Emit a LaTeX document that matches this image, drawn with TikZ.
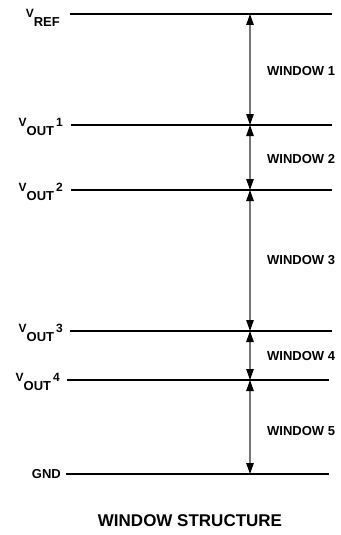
\documentclass[tikz,border=0pt]{standalone}
\usepackage{fontspec}
\setmainfont{Liberation Sans}
\usetikzlibrary{arrows.meta}
\definecolor{shaftgray}{RGB}{118,118,118}
\newcommand{\vname}[2]{{\fontsize{12}{12}\selectfont V}\raisebox{-8.5pt}{\fontsize{13}{13}\selectfont #1}{\fontsize{12}{12}\selectfont\,#2}}

\begin{document}
\begin{tikzpicture}[x=1pt,y=-1pt,font=\bfseries\fontsize{13}{15}\selectfont,
    level/.style={line width=1.5pt},
    gap/.style={draw=shaftgray,line width=1.1pt,
      {Triangle[length=11pt,width=7.5pt,color=black]}-{Triangle[length=11pt,width=7.5pt,color=black]}},
    win/.style={anchor=west,inner sep=0pt}]
    \useasboundingbox (0,0) rectangle (340,535);

    \coordinate (L0) at (70,14);  \coordinate (R0) at (332,14);
    \coordinate (L1) at (71,125); \coordinate (R1) at (332,125);
    \coordinate (L2) at (71,190); \coordinate (R2) at (332,190);
    \coordinate (L3) at (70,331); \coordinate (R3) at (332,331);
    \coordinate (L4) at (67,380); \coordinate (R4) at (329,380);
    \coordinate (L5) at (66,474); \coordinate (R5) at (329,474);

    \coordinate (A0) at (250,14);
    \coordinate (A1) at (250,125);
    \coordinate (A2) at (250,190);
    \coordinate (A3) at (250,331);
    \coordinate (A4) at (250,380);
    \coordinate (A5) at (250,474);

    \draw [level] (L0) -- (R0);
    \draw [level] (L1) -- (R1);
    \draw [level] (L2) -- (R2);
    \draw [level] (L3) -- (R3);
    \draw [level] (L4) -- (R4);
    \draw [level] (L5) -- (R5);

    \draw [gap] (A0) -- (A1);
    \draw [gap] (A1) -- (A2);
    \draw [gap] (A2) -- (A3);
    \draw [gap] (A3) -- (A4);
    \draw [gap] (A4) -- (A5);

    \node [anchor=base east,inner sep=0pt] (vref) at (62,18) {\vname{REF}{}};
    \node [anchor=base east,inner sep=0pt] (vout1) at (63,126.5) {\vname{OUT}{1}};
    \node [anchor=base east,inner sep=0pt] (vout2) at (63,191.5) {\vname{OUT}{2}};
    \node [anchor=base east,inner sep=0pt] (vout3) at (63,332.5) {\vname{OUT}{3}};
    \node [anchor=base east,inner sep=0pt] (vout4) at (60,381.5) {\vname{OUT}{4}};
    \node [anchor=east,inner sep=0pt] (gnd) at (61,474.5) {GND};

    \node [win] (w1) at (267,71) {WINDOW 1};
    \node [win] (w2) at (267,159) {WINDOW 2};
    \node [win] (w3) at (267,260) {WINDOW 3};
    \node [win] (w4) at (267,356) {WINDOW 4};
    \node [win] (w5) at (267,431) {WINDOW 5};

    \node [font=\bfseries\fontsize{17}{20}\selectfont] (title) at (190,521) {WINDOW STRUCTURE};
\end{tikzpicture}
\end{document}
